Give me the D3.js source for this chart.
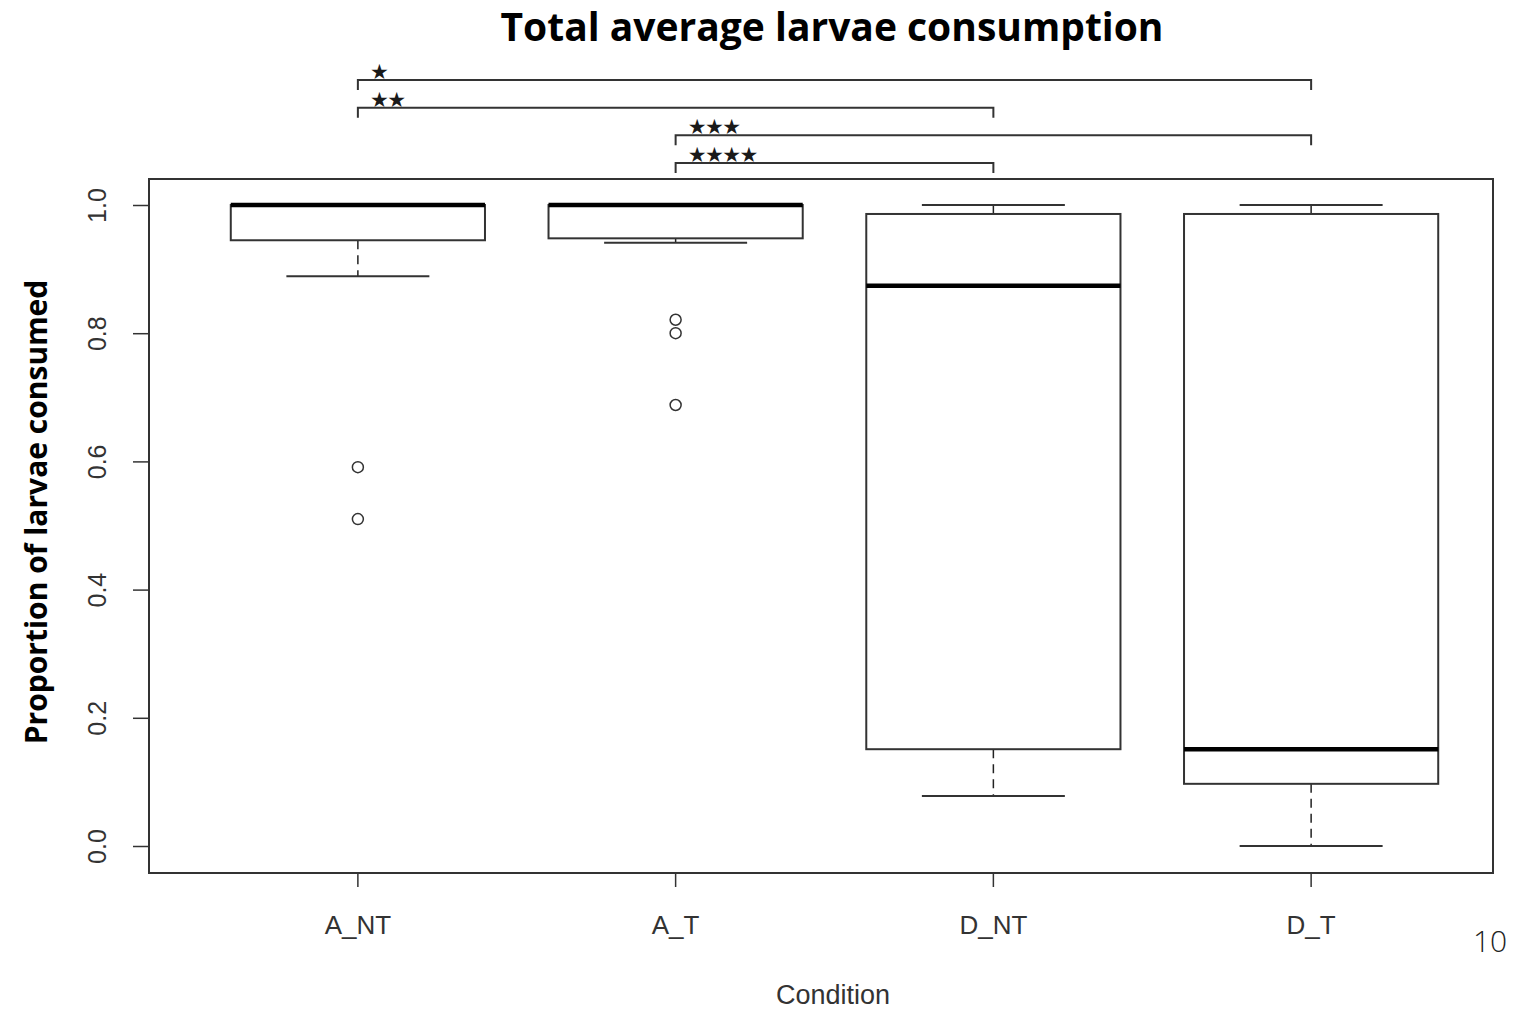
<!DOCTYPE html>
<html>
<head>
<meta charset="utf-8">
<script src="https://cdn.jsdelivr.net/npm/d3@7"></script>
<style>
  html, body { margin: 0; padding: 0; background: #fff; }
  svg { display: block; }
</style>
</head>
<body>
<svg id="chart" width="1530" height="1009"></svg>
<script>
// Conditions and their box-plot summaries (proportion of larvae consumed)
const categories = ["A_NT", "A_T", "D_NT", "D_T"];
const whiskerLow  = [0.889, 0.941, 0.078, 0.000];
const quartile1   = [0.945, 0.948, 0.151, 0.097];
const medians     = [1.000, 1.000, 0.874, 0.151];
const quartile3   = [1.000, 1.000, 0.986, 0.986];
const whiskerHigh = [1.000, 1.000, 1.000, 1.000];
const outliers    = [[0.591, 0.510], [0.821, 0.800, 0.688], [], []];

const yTicks = [0.0, 0.2, 0.4, 0.6, 0.8, 1.0];

// Pairwise significance brackets
const pairFrom  = ["A_NT", "A_NT", "A_T", "A_T"];
const pairTo    = ["D_T", "D_NT", "D_T", "D_NT"];
const pairStars = ["★", "★★", "★★★", "★★★★"];
const pairLevel = [0, 1, 2, 3];

const svg = d3.select("#chart");
const ink = "#222";

const frame = { left: 149, right: 1493, top: 179, bottom: 873 };

const x = d3.scaleBand().domain(categories).range([199, 1470]).padding(0);
const y = d3.scaleLinear().domain([0, 1]).range([846, 205]);
const cx = c => x(c) + x.bandwidth() / 2;
const boxW = x.bandwidth() * 0.8;
const capW = x.bandwidth() * 0.45;

// Title
svg.append("text")
  .attr("x", 832).attr("y", 41)
  .attr("text-anchor", "middle")
  .attr("font-family", "'Open Sans', sans-serif")
  .attr("font-weight", 700)
  .attr("font-size", 39)
  .attr("fill", "#000")
  .text("Total average larvae consumption");

// Plot frame
svg.append("rect")
  .attr("x", frame.left).attr("y", frame.top)
  .attr("width", frame.right - frame.left)
  .attr("height", frame.bottom - frame.top)
  .attr("fill", "none").attr("stroke", "#333").attr("stroke-width", 2);

// Y axis
const yAxis = svg.append("g")
  .attr("transform", `translate(${frame.left},0)`)
  .call(d3.axisLeft(y).tickValues(yTicks).tickSize(16).tickFormat(d3.format(".1f")));
yAxis.select(".domain").remove();
yAxis.selectAll(".tick line").attr("stroke", "#333").attr("stroke-width", 1.5);
yAxis.selectAll(".tick text")
  .attr("x", null).attr("dy", null)
  .attr("transform", "translate(-52,0) rotate(-90)")
  .attr("text-anchor", "middle")
  .attr("dominant-baseline", "central")
  .attr("font-family", "'Liberation Sans', Arial, sans-serif")
  .attr("font-size", 25)
  .attr("fill", "#333");

// X axis
const xAxis = svg.append("g")
  .attr("transform", `translate(0,${frame.bottom})`)
  .call(d3.axisBottom(x).tickSize(14));
xAxis.select(".domain").remove();
xAxis.selectAll(".tick line").attr("stroke", "#333").attr("stroke-width", 1.5);
xAxis.selectAll(".tick text")
  .attr("y", 52).attr("dy", null)
  .attr("dominant-baseline", "central")
  .attr("font-family", "'Liberation Sans', Arial, sans-serif")
  .attr("font-size", 26)
  .attr("fill", "#333");

// Axis titles
svg.append("text")
  .attr("x", 833).attr("y", 1004)
  .attr("text-anchor", "middle")
  .attr("font-family", "'Liberation Sans', Arial, sans-serif")
  .attr("font-size", 27)
  .attr("fill", "#333")
  .text("Condition");

svg.append("text")
  .attr("transform", "translate(35,512) rotate(-90)")
  .attr("text-anchor", "middle")
  .attr("dominant-baseline", "central")
  .attr("font-family", "'Open Sans', sans-serif")
  .attr("font-weight", 700)
  .attr("font-size", 30)
  .attr("fill", "#000")
  .text("Proportion of larvae consumed");

// Box plots
const boxes = svg.append("g");
categories.forEach((c, i) => {
  const g = boxes.append("g");
  const xc = cx(c);
  // dashed whiskers
  [[quartile1[i], whiskerLow[i]], [quartile3[i], whiskerHigh[i]]].forEach(([a, b]) => {
    if (Math.abs(y(a) - y(b)) > 0.5) {
      g.append("line")
        .attr("x1", xc).attr("x2", xc)
        .attr("y1", y(a)).attr("y2", y(b))
        .attr("stroke", ink).attr("stroke-width", 1.5)
        .attr("stroke-dasharray", "9,6");
    }
  });
  // whisker caps
  [whiskerLow[i], whiskerHigh[i]].forEach(v => {
    g.append("line")
      .attr("x1", xc - capW / 2).attr("x2", xc + capW / 2)
      .attr("y1", y(v)).attr("y2", y(v))
      .attr("stroke", "#333").attr("stroke-width", 2);
  });
  // box
  g.append("rect")
    .attr("x", xc - boxW / 2).attr("width", boxW)
    .attr("y", y(quartile3[i])).attr("height", y(quartile1[i]) - y(quartile3[i]))
    .attr("fill", "#fff").attr("stroke", "#333").attr("stroke-width", 2);
  // median
  g.append("line")
    .attr("x1", xc - boxW / 2).attr("x2", xc + boxW / 2)
    .attr("y1", y(medians[i])).attr("y2", y(medians[i]))
    .attr("stroke", "#000").attr("stroke-width", 4.5);
  // outliers
  g.selectAll("circle.out").data(outliers[i]).join("circle")
    .attr("class", "out")
    .attr("cx", xc).attr("cy", d => y(d)).attr("r", 5.5)
    .attr("fill", "none").attr("stroke", "#333").attr("stroke-width", 1.5);
});

// Significance brackets
const levelY = d3.scaleLinear().domain([0, 3]).range([80, 163]);
const brackets = svg.append("g");
pairStars.forEach((s, i) => {
  const x1 = cx(pairFrom[i]);
  const x2 = cx(pairTo[i]);
  const ly = levelY(pairLevel[i]);
  brackets.append("path")
    .attr("d", `M${x1},${ly + 10}V${ly}H${x2}V${ly + 10}`)
    .attr("fill", "none").attr("stroke", "#333").attr("stroke-width", 2);
  brackets.append("text")
    .attr("x", x1 + 12).attr("y", ly - 1)
    .attr("font-family", "'DejaVu Sans', sans-serif")
    .attr("font-size", 21)
    .attr("letter-spacing", -1.5)
    .attr("fill", "#1a1a1a")
    .text(s);
});

// Slide number
svg.append("text")
  .attr("x", 1490).attr("y", 940)
  .attr("text-anchor", "middle")
  .attr("dominant-baseline", "central")
  .attr("font-family", "'Open Sans', sans-serif")
  .attr("font-weight", 300)
  .attr("font-size", 30)
  .attr("fill", "#222")
  .text("10");
</script>
</body>
</html>
